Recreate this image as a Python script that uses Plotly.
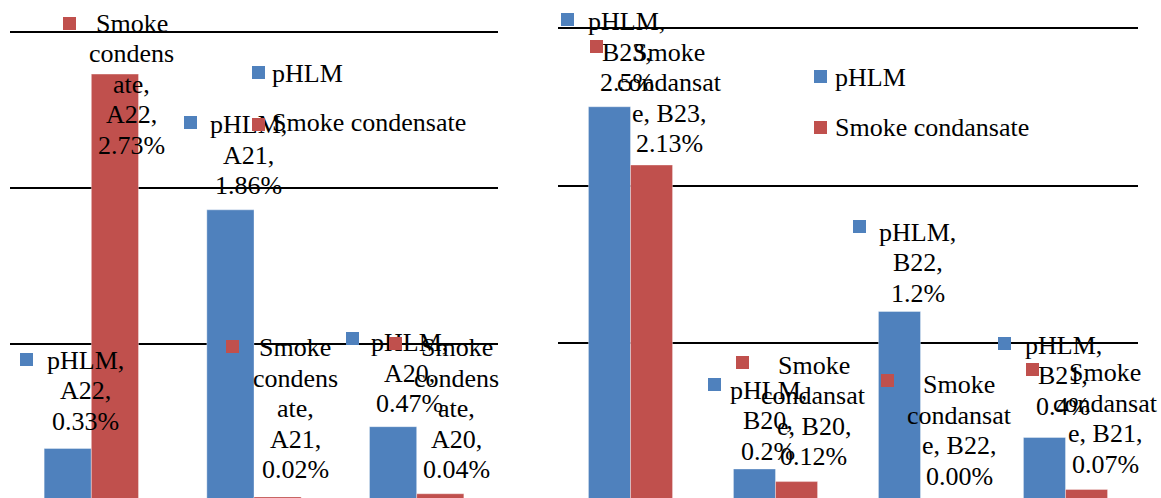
import plotly.graph_objects as go

# ---------------- data ----------------
left_categories = ["A22", "A21", "A20"]
left_phlm = [0.33, 1.86, 0.47]
left_smoke = [2.73, 0.02, 0.04]
left_series_names = ["pHLM", "Smoke condensate"]

right_categories = ["B23", "B20", "B22", "B21"]
right_phlm = [2.5, 0.2, 1.2, 0.4]
right_smoke = [2.13, 0.12, 0.00, 0.07]
right_series_names = ["pHLM", "Smoke condansate"]

# ---------------- style ----------------
W, H = 1161, 498
BLUE = "#4F81BD"
RED = "#C0504D"
COLORS = [BLUE, RED]
FONT = "Liberation Serif"
FSIZE = 26
LINE_H = 30.5
SQ = 13

# label offsets in pixels, relative to the top-centre of each bar:
# (text centre dx, first line dy, key square dx, key square dy), dy downwards
left_label_offsets = {
    (0, "A22"): (17.7, -88.5, -41.3, -89.5),
    (0, "A21"): (17.5, -85.0, -40.5, -87.3),
    (0, "A20"): (16.8, -83.7, -40.2, -87.7),
    (1, "A22"): (16.7, -51.0, -45.8, -51.0),
    (1, "A21"): (17.5, -149.0, -45.5, -150.0),
    (1, "A20"): (16.8, -146.0, -44.2, -150.3),
}
right_label_offsets = {
    (0, "B23"): (17.0, -84.8, -42.0, -87.0),
    (0, "B20"): (13.5, -79.0, -40.5, -84.5),
    (0, "B22"): (18.0, -79.5, -40.5, -85.5),
    (0, "B21"): (18.5, -92.5, -40.5, -94.5),
    (1, "B23"): (17.5, -113.0, -55.5, -119.0),
    (1, "B20"): (17.0, -116.6, -54.5, -119.0),
    (1, "B22"): (17.5, -115.5, -54.0, -120.0),
    (1, "B21"): (18.5, -116.5, -54.5, -120.0),
}

panels = [
    dict(xa="x", ya="y", dom=(10, 498), zero_px=500.0, px_per_unit=156.0,
         half_bar=23.5, cats=left_categories, values=[left_phlm, left_smoke],
         names=left_series_names, wrap=[7, 7], decimals=[2, 2],
         offsets=left_label_offsets,
         legend=[(258.5, 72, 270, 73), (258.5, 124, 270, 123)]),
    dict(xa="x2", ya="y2", dom=(558, 1138), zero_px=500.5, px_per_unit=157.5,
         half_bar=21.0, cats=right_categories, values=[right_phlm, right_smoke],
         names=right_series_names, wrap=[6, 9], decimals=[1, 2],
         offsets=right_label_offsets,
         legend=[(820, 76, 833, 77), (820, 128, 833, 127)]),
]


def wrap(text, width):
    """Word wrap with hard breaks for words longer than the line width."""
    lines, cur = [], ""
    for word in text.split(" "):
        candidate = word if not cur else cur + " " + word
        if len(candidate) <= width:
            cur = candidate
            continue
        if cur:
            lines.append(cur)
            cur = ""
        while len(word) > width:
            lines.append(word[:width])
            word = word[width:]
        cur = word
    if cur:
        lines.append(cur)
    return lines


def key_square(color, **pos):
    return dict(text=" ", showarrow=False, width=SQ, height=SQ, bgcolor=color,
                borderpad=0, borderwidth=0, font=dict(size=2),
                xanchor="center", yanchor="middle", **pos)


fig = go.Figure()
annotations = []
layout_axes = {}

for p in panels:
    y_lo = (p["zero_px"] - H) / p["px_per_unit"]
    y_hi = p["zero_px"] / p["px_per_unit"]
    for s, (name, vals) in enumerate(zip(p["names"], p["values"])):
        fig.add_trace(go.Bar(
            x=p["cats"], y=vals, name=name, xaxis=p["xa"], yaxis=p["ya"],
            marker=dict(color=COLORS[s], line=dict(color="rgba(255,255,255,0.35)", width=1)),
            showlegend=False, hoverinfo="skip",
        ))
        sign = -1 if s == 0 else 1
        for cat, v in zip(p["cats"], vals):
            tdx, ldy, sdx, sdy = p["offsets"][(s, cat)]
            # labels of bars whose top lies below the visible range are anchored
            # at the lower edge and shifted back down to the bar top
            anchor = max(v, y_lo + 1e-3)
            drop = (anchor - v) * p["px_per_unit"]
            label = f"{name}, {cat}, {v:.{p['decimals'][s]}f}%"
            for i, line in enumerate(wrap(label, p["wrap"][s])):
                annotations.append(dict(
                    x=cat, y=anchor, xref=p["xa"], yref=p["ya"], text=line,
                    showarrow=False, xanchor="center", yanchor="middle",
                    xshift=sign * p["half_bar"] + tdx,
                    yshift=-(ldy + i * LINE_H) - drop,
                    font=dict(family=FONT, size=FSIZE, color="black"),
                ))
            annotations.append(key_square(
                COLORS[s], x=cat, y=anchor, xref=p["xa"], yref=p["ya"],
                xshift=sign * p["half_bar"] + sdx, yshift=-sdy - drop))

    # floating legend
    for s, (sqx, sqy, tx, ty) in enumerate(p["legend"]):
        annotations.append(key_square(COLORS[s], x=sqx / W, y=1 - sqy / H,
                                      xref="paper", yref="paper"))
        annotations.append(dict(
            x=tx / W, y=1 - ty / H, xref="paper", yref="paper", text=p["names"][s],
            showarrow=False, xanchor="left", yanchor="middle",
            font=dict(family=FONT, size=FSIZE, color="black"),
        ))

    xkey = "xaxis" if p["xa"] == "x" else "xaxis2"
    ykey = "yaxis" if p["ya"] == "y" else "yaxis2"
    layout_axes[xkey] = dict(
        domain=[p["dom"][0] / W, p["dom"][1] / W], type="category",
        range=[-0.5, len(p["cats"]) - 0.5],
        showticklabels=False, showgrid=False, zeroline=False, showline=False,
        ticks="", anchor=p["ya"], fixedrange=True,
    )
    layout_axes[ykey] = dict(
        domain=[0, 1], anchor=p["xa"], range=[y_lo, y_hi],
        tickvals=[1, 2, 3], showgrid=True, gridcolor="black", gridwidth=1.6,
        showticklabels=False, ticks="", zeroline=False, showline=False, fixedrange=True,
    )

fig.update_layout(
    width=W, height=H,
    margin=dict(l=0, r=0, t=0, b=0, pad=0),
    paper_bgcolor="white", plot_bgcolor="white",
    barmode="group", bargap=0.42, bargroupgap=0,
    annotations=annotations,
    showlegend=False,
    **layout_axes,
)

fig.write_html("out.html", config={"displayModeBar": False})
